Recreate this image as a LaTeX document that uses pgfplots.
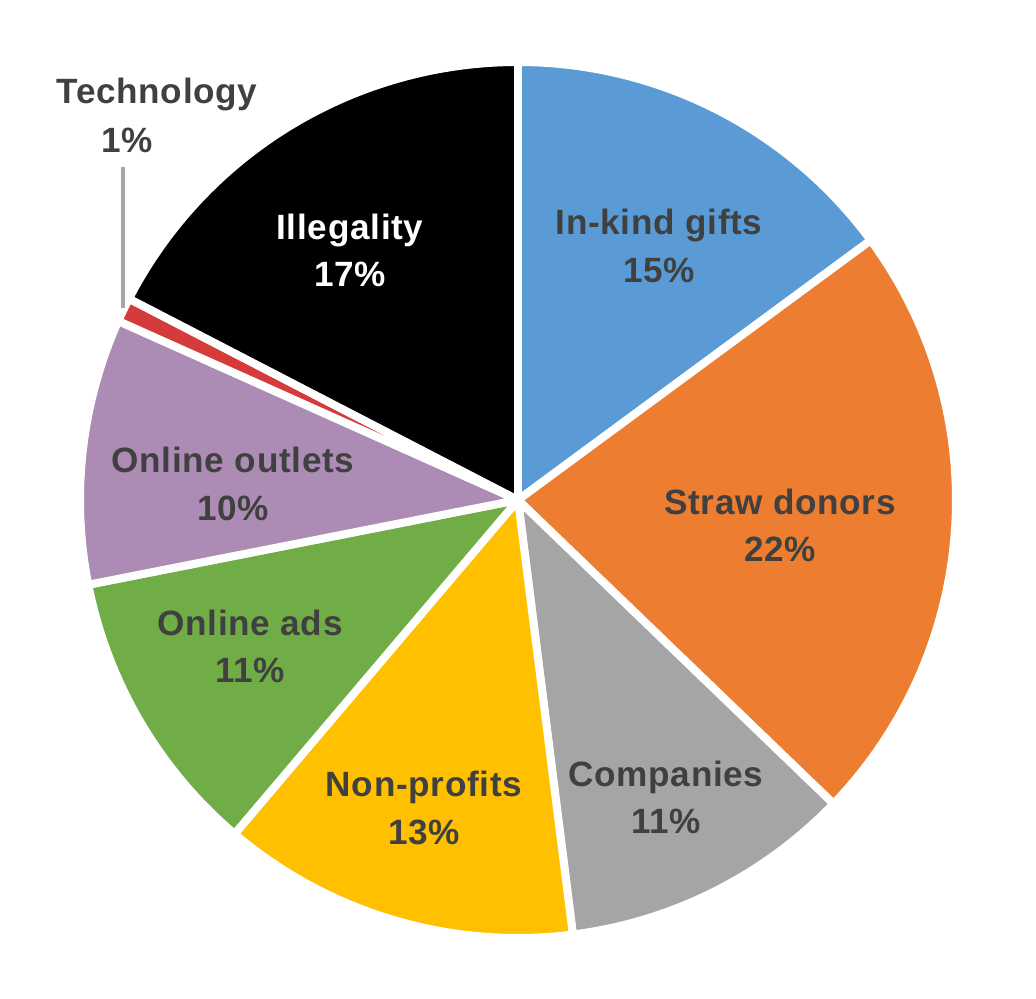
\documentclass[border=0pt]{standalone}
\usepackage{pgfplots}
\pgfplotsset{compat=1.18}
\usepackage{fontspec}
\setmainfont{Liberation Sans}
\newfontfamily\lblfont[LetterSpace=2]{Liberation Sans}

\definecolor{cGifts}{HTML}{5B9BD5}
\definecolor{cStraw}{HTML}{ED7D31}
\definecolor{cComp}{HTML}{A5A5A5}
\definecolor{cNonp}{HTML}{FFC000}
\definecolor{cAds}{HTML}{70AD47}
\definecolor{cOutl}{HTML}{AC8CB4}
\definecolor{cTech}{HTML}{D63B3B}
\definecolor{cIlleg}{HTML}{000000}
\definecolor{txt}{HTML}{404040}

% shares in percent (clockwise from 12 o'clock):
% gifts 14.9, straw 22.3, companies 10.8, non-profits 13.2,
% online ads 10.7, online outlets 9.8, technology 0.9, illegality 17.4
% slice: {start %}{end %}{colour}
\newcommand{\slice}[3]{%
  \addplot[fill=#3, draw=white, line width=2.27pt, line join=round,
           domain=#1*3.6:#2*3.6, samples=80, variable=\t]
    ({518+438*sin(\t)}, {499+438*cos(\t)}) -- (axis cs:518,499) -- cycle;
}

\tikzset{
  lbl/.style={font=\lblfont\fontsize{10}{13.4}\selectfont\bfseries, text=txt, align=center, inner sep=0pt},
}

\begin{document}
\begin{tikzpicture}
\begin{axis}[
    width=10.36cm, height=9.99cm,
    scale only axis,
    xmin=0, xmax=1036, ymin=0, ymax=999,
    axis lines=none,
    clip=false,
]
\slice{0}{14.9}{cGifts}
\slice{14.9}{37.2}{cStraw}
\slice{37.2}{48.0}{cComp}
\slice{48.0}{61.2}{cNonp}
\slice{61.2}{71.9}{cAds}
\slice{71.9}{81.7}{cOutl}
\slice{81.7}{82.6}{cTech}
\slice{82.6}{100}{cIlleg}

% leader line for Technology
\addplot[color=black!35, line width=1pt] coordinates {(123,832) (123,691)};

\node[lbl] at (axis cs:659,753) {In-kind gifts\\15\%};
\node[lbl] at (axis cs:780,474) {Straw donors\\22\%};
\node[lbl] at (axis cs:666,202) {Companies\\11\%};
\node[lbl] at (axis cs:424,191) {Non-profits\\13\%};
\node[lbl] at (axis cs:250,353) {Online ads\\11\%};
\node[lbl] at (axis cs:233,515) {Online outlets\\10\%};
\node[lbl] at (axis cs:157,904) {Technology};
\node[lbl] at (axis cs:127,859) {1\%};
\node[lbl, text=white] at (axis cs:350,749) {Illegality\\17\%};
\end{axis}
\pgfresetboundingbox
\path (current axis.south west) rectangle (current axis.north east);
\end{tikzpicture}
\end{document}
